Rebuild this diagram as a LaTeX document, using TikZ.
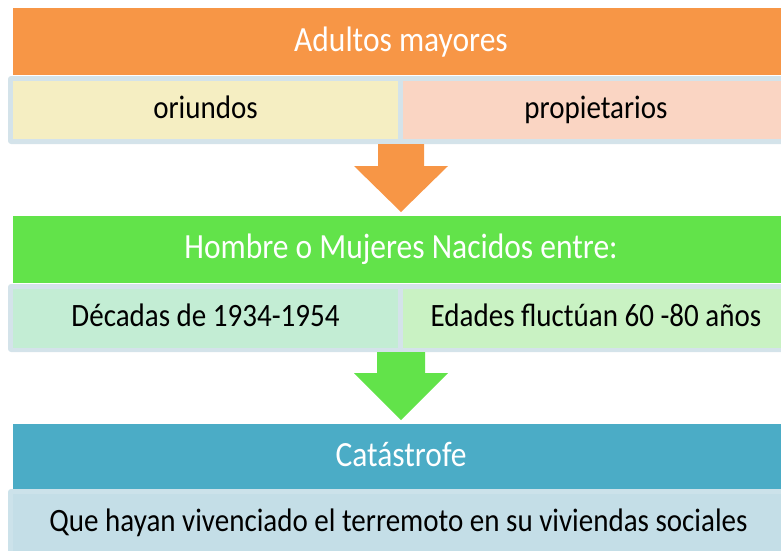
\documentclass[tikz,border=0pt]{standalone}
\usepackage{fontspec}
\setmainfont{Carlito}[FakeStretch=0.89]
\usetikzlibrary{calc}
\definecolor{orangeH}{HTML}{F79646}
\definecolor{greenH}{HTML}{62E34A}
\definecolor{blueH}{HTML}{4BACC6}
\definecolor{frameC}{HTML}{D4E3EA}
\definecolor{yellowC}{HTML}{F5EEC2}
\definecolor{pinkC}{HTML}{FAD5C3}
\definecolor{mintC}{HTML}{C3EDD4}
\definecolor{lgreenC}{HTML}{C9F2C3}
\definecolor{lblueC}{HTML}{C4DEE7}
\definecolor{lblueF}{HTML}{CCE2EA}
\begin{document}
\begin{tikzpicture}[x=1pt,y=-1pt,
  box/.style={rectangle, inner sep=0pt, outer sep=0pt, anchor=north west},
  hdr/.style={box, text=white, font=\fontsize{35.4}{40}\selectfont, text height=24pt, text depth=5pt},
  cell/.style={box, text=black, font=\fontsize{32.6}{38}\selectfont, text height=20pt, text depth=4pt},
  frm/.style={box, rounded corners=3pt}]
\useasboundingbox (0,0) rectangle (781,550);
\clip (0,0) rectangle (781,550);
% Row 1
\node[hdr, fill=orangeH, minimum width=776pt, minimum height=67pt] (hdrA) at (13,8) {Adultos mayores};
\node[frm, fill=frameC, minimum width=781pt, minimum height=68pt] (frame1) at (8,76) {};
\node[cell, fill=yellowC, minimum width=385pt, minimum height=58pt] (c1a) at (13,81) {oriundos};
\node[cell, fill=pinkC, minimum width=386pt, minimum height=58pt] (c1b) at (403,81) {propietarios};
% Row 2
\node[hdr, fill=greenH, minimum width=776pt, minimum height=67pt, text height=23pt] (hdrB) at (13,216) {Hombre o Mujeres Nacidos entre:};
\node[frm, fill=frameC, minimum width=781pt, minimum height=68pt] (frame2) at (8,284) {};
\node[cell, fill=mintC, minimum width=385pt, minimum height=59pt, text height=19pt] (c2a) at (13,289) {Décadas de 1934-1954};
\node[cell, fill=lgreenC, minimum width=386pt, minimum height=59pt, text height=19pt] (c2b) at (403,289) {Edades fluctúan 60 -80 años};
% Row 3
\node[hdr, fill=blueH, minimum width=776pt, minimum height=65pt] (hdrC) at (13,424) {Catástrofe};
\node[frm, fill=lblueF, minimum width=781pt, minimum height=80pt] (frame3) at (8,489) {};
\node[cell, fill=lblueC, minimum width=771pt, minimum height=62pt, text height=18pt, text depth=6pt] (c3) at (13,494) {Que hayan vivenciado el terremoto en su viviendas sociales};
% Arrows
\coordinate (a1s) at (hdrA.south |- frame1.south);
\coordinate (a1e) at ($(hdrB.north)+(0,-4)$);
\fill[orangeH] ($(a1s)+(-23,0)$) -- ($(a1s)+(23,0)$) -- ($(a1s)+(23,22)$) -- ($(a1s)+(47,22)$) -- (a1e) -- ($(a1s)+(-47,22)$) -- ($(a1s)+(-23,22)$) -- cycle;
\coordinate (a2s) at (hdrB.south |- frame2.south);
\coordinate (a2e) at ($(hdrC.north)+(0,-4)$);
\fill[greenH] ($(a2s)+(-24,0)$) -- ($(a2s)+(24,0)$) -- ($(a2s)+(24,21)$) -- ($(a2s)+(47,21)$) -- (a2e) -- ($(a2s)+(-47,21)$) -- ($(a2s)+(-24,21)$) -- cycle;
\end{tikzpicture}
\end{document}
